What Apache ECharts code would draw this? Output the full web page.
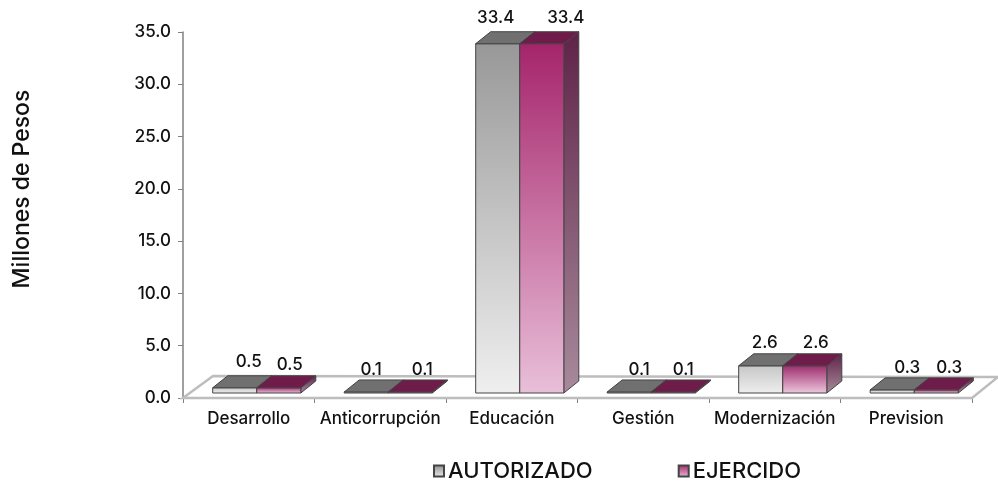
<!DOCTYPE html>
<html>
<head>
<meta charset="utf-8">
<style>html,body{margin:0;padding:0;background:#fff}#c{width:998px;height:481px}</style>
<script src="https://cdn.jsdelivr.net/npm/echarts@6/dist/echarts.min.js"></script>
</head>
<body>
<div id="c"></div>
<script>
const categories = ['Desarrollo','Anticorrupción','Educación','Gestión','Modernización','Prevision'];
const autorizado = [0.5,0.1,33.4,0.1,2.6,0.3];
const ejercido = [0.5,0.1,33.4,0.1,2.6,0.3];
const yTicks = {min:0,max:35,interval:5};

const FONT = 'Inter, "Open Sans", sans-serif';
// depth styling of the 3-D look (pixels)
const DX = 15, DY = 12, LIFT = 5, SHIFT = 8;
const labelNudge = {
  AUTORIZADO: [[14,-14],[5,-10],[-2,-14],[10,-10],[4,-11],[15,-10]],
  EJERCIDO:   [[11,-11],[12,-10],[24,-14],[10,-10],[11,-11],[13,-10]]
};
function grad(a,b){return {type:'linear',x:0,y:0,x2:0,y2:1,colorStops:[{offset:0,color:a},{offset:1,color:b}]};}
const styles = {
  AUTORIZADO:{front:grad('#989898','#efefef'),frontShort:grad('#c6c6c6','#efefef'),top:'#707070',side:grad('#5c5c5c','#a8a8a8'),legend:grad('#8c8c8c','#eeeeee')},
  EJERCIDO:{front:grad('#a5246b','#e9bfd9'),frontShort:grad('#9c2c6c','#eec8de'),top:'#6f1c4a',side:grad('#5f2348','#a88a9c'),legend:grad('#a5246b','#e9bfd9')}
};
function barSeries(name,values,side){
  const st = styles[name];
  return {
    type:'custom',name:name,clip:false,z:3,
    itemStyle:{color:st.legend,borderColor:'#444',borderWidth:1},
    data:values.map((v,i)=>[i,v]),
    encode:{x:0,y:1},
    renderItem:function(params,api){
      const i = api.value(0), v = api.value(1);
      const c0 = api.coord([i,0]), c1 = api.coord([i,v]);
      const w = api.size([1,0])[0]*0.335;
      const x0 = c0[0]+SHIFT+(side<0?-w:0), x1 = x0+w;
      const yb = c0[1]-LIFT, yt = c1[1]-LIFT;
      const line = {stroke:'#444',lineWidth:1};
      const nudge = labelNudge[name][i];
      return {type:'group',children:[
        {type:'polygon',shape:{points:[[x1,yb],[x1+DX,yb-DY],[x1+DX,yt-DY],[x1,yt]]},style:Object.assign({fill:st.side},line)},
        {type:'rect',shape:{x:x0,y:yt,width:w,height:yb-yt},style:Object.assign({fill:v<10?st.frontShort:st.front},line)},
        {type:'polygon',shape:{points:[[x0,yt],[x1,yt],[x1+DX,yt-DY],[x0+DX,yt-DY]]},style:Object.assign({fill:st.top},line)},
        {type:'text',z2:10,style:{text:v.toFixed(1),x:(x0+x1)/2+nudge[0],y:yt-DY+nudge[1],align:'center',verticalAlign:'middle',fill:'#111',font:'500 17px '+FONT}}
      ]};
    }
  };
}
const floorSeries = {
  type:'custom',name:'floor',silent:true,z:1,clip:false,
  data:[[0,0]],encode:{x:0,y:1},
  renderItem:function(params,api){
    const cs = params.coordSys;
    const y = cs.y+cs.height, l = cs.x, r = cs.x+cs.width;
    return {type:'polygon',shape:{points:[[l,y],[r,y],[r+26,y-21],[l+30,y-22]]},
      style:{fill:'#fff',stroke:'#bdbdbd',lineWidth:2.5}};
  }
};
const chart = echarts.init(document.getElementById('c'),null,{renderer:'canvas'});
chart.setOption({
  animation:false,
  backgroundColor:'#fff',
  grid:{left:183,right:26,top:32,bottom:83,containLabel:false},
  legend:{
    data:['AUTORIZADO','EJERCIDO'],left:428,top:455,itemWidth:10,itemHeight:11,itemGap:85,
    icon:'rect',textStyle:{fontFamily:FONT,fontSize:22,color:'#111',padding:[1,0,0,-1],fontWeight:500},selectedMode:false
  },
  xAxis:{type:'category',data:categories,
    axisLine:{lineStyle:{color:'#808080',width:1.5}},
    axisTick:{show:true,length:5,lineStyle:{color:'#808080'}},
    axisLabel:{fontFamily:FONT,fontSize:17,fontWeight:500,color:'#111',margin:12,interval:0},
    splitLine:{show:false}},
  yAxis:{type:'value',min:yTicks.min,max:yTicks.max,interval:yTicks.interval,
    name:'Millones de Pesos',nameLocation:'middle',nameGap:149,nameRotate:90,
    nameTextStyle:{fontFamily:FONT,fontSize:23,fontWeight:500,color:'#111',padding:[0,0,0,52]},
    axisLine:{show:true,lineStyle:{color:'#808080',width:1.5}},
    axisTick:{show:true,length:5,lineStyle:{color:'#808080'}},
    axisLabel:{fontFamily:FONT,fontSize:17,fontWeight:500,color:'#111',margin:12,formatter:v=>v.toFixed(1)},
    splitLine:{show:false}},
  series:[floorSeries,barSeries('AUTORIZADO',autorizado,-1),barSeries('EJERCIDO',ejercido,1)]
});
</script>
</body>
</html>
